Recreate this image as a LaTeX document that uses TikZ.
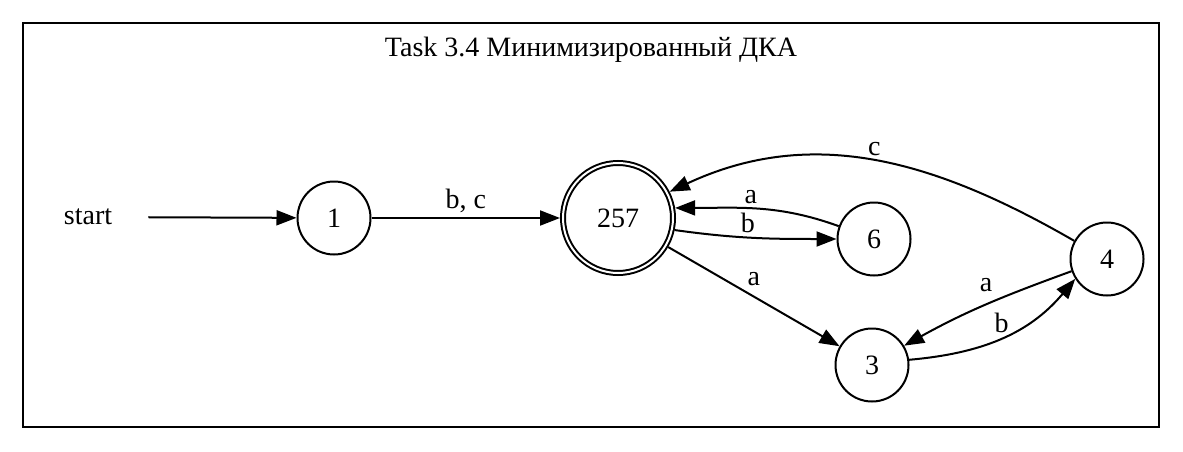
\documentclass[tikz,border=0pt]{standalone}
\usepackage{fontspec}
\setmainfont{Liberation Serif}
\usetikzlibrary{arrows.meta}

\begin{document}
\begin{tikzpicture}[x=0.5pt, y=0.5pt, font=\fontsize{14}{16}\selectfont,
    state/.style={circle, draw, line width=1pt, minimum size=36.5pt, inner sep=0pt},
    accepting/.style={state, double, double distance=1pt, minimum size=55pt, outer sep=1.5pt},
    edge/.style={-{Triangle[length=10pt,width=7.5pt]}, line width=1pt},
    lbl/.style={above, inner sep=2pt}]
\useasboundingbox (0,0) rectangle (1183,451);
\draw[line width=1.4pt] (23,24) rectangle (1159,428);
\node (title) at (591,401) {Task 3.4 Минимизированный ДКА};

\node[minimum width=60pt, inner sep=0pt] (start) at (88,234) {start};
\node[state] (q1) at (334,233) {1};
\node[accepting] (q257) at (618,233) {257};
\node[state] (q6) at (874,212) {6};
\node[state] (q4) at (1107,192) {4};
\node[state] (q3) at (872,86) {3};

\draw[edge] (start) -- (q1);
\draw[edge] (q1) -- node[lbl] {b, c} (q257);
\draw[edge] (q257.-12) to[out=-8, in=180] node[lbl, pos=0.45] {b} (q6);
\draw[edge] (q6.160) to[out=160, in=0] node[lbl, pos=0.55] {a} (q257.10);
\draw[edge] (q257) -- node[lbl, pos=0.5, above=3pt] {a} (q3);
\draw[edge] (q4.199) to[out=200, in=29] node[lbl, pos=0.5, above=4pt] {a} (q3.31);
\draw[edge] (q3.8) to[out=5, in=230] node[lbl, pos=0.5] {b} (q4.212);
\draw[edge] (q4.151) to[out=150, in=25] node[lbl] {c} (q257.27);
\end{tikzpicture}
\end{document}
